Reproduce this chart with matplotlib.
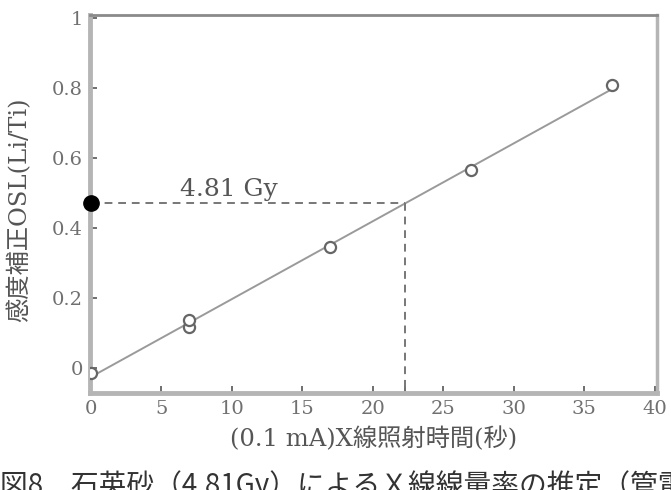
import numpy as np
import matplotlib
matplotlib.use("Agg")
import matplotlib.pyplot as plt

irr_time = [0, 7, 7, 17, 27, 37]
osl_ratio = [-0.014, 0.117, 0.137, 0.346, 0.566, 0.81]
natural_osl = 0.471
dose_label = "4.81 Gy"

x_ticks = [0, 5, 10, 15, 20, 25, 30, 35, 40]
y_ticks = [0, 0.2, 0.4, 0.6, 0.8, 1]
y_ticklabels = ["0", "0.2", "0.4", "0.6", "0.8", "1"]

xlabel = "(0.1 mA)X線照射時間(秒)"
ylabel = "感度補正OSL(Li/Ti)"
caption = "図8　石英砂（4.81Gy）によるＸ線線量率の推定（管電圧"

serif_jp = ["DejaVu Serif", "Noto Sans CJK JP"]
sans_jp = ["Noto Sans CJK JP", "DejaVu Sans"]

# linear fit, and the time that gives the natural signal
slope, icpt = np.polyfit(irr_time, osl_ratio, 1)
x_eq = (natural_osl - icpt) / slope

fig = plt.figure(figsize=(6.71, 4.90), dpi=100)
ax = fig.add_axes([0.134, 0.198, 0.845, 0.771])

xs = np.array([0, 37.2])
ax.plot(xs, icpt + slope * xs, color="#9a9a9a", lw=1.4, zorder=2)
ax.plot(irr_time, osl_ratio, "o", ms=8, mfc="white", mec="#666666", mew=1.6, zorder=3)
ax.plot([0], [natural_osl], "o", ms=11, color="black", clip_on=False, zorder=5)

# dashed guide lines
ax.plot([0, x_eq], [natural_osl, natural_osl], ls=(0, (4, 3)), color="#777777", lw=1.4, zorder=2)
ax.plot([x_eq, x_eq], [natural_osl, -0.071], ls=(0, (4, 3)), color="#777777", lw=1.4, zorder=2)
ax.text(9.8, 0.512, dose_label, ha="center", va="center", fontsize=18,
        family="DejaVu Serif", color="#555555")

ax.set_xlim(-0.05, 40.15)
ax.set_ylim(-0.071, 1.009)
ax.set_xticks(x_ticks + [x_eq])
ax.set_xticklabels([str(t) for t in x_ticks] + [""])
ax.set_yticks(y_ticks)
ax.set_yticklabels(y_ticklabels)
ax.tick_params(direction="in", length=5, width=1.2, color="#555555",
               labelcolor="#707070", labelsize=14)
ax.tick_params(axis="x", pad=5)
ax.tick_params(axis="y", pad=5)
for lab in ax.get_xticklabels() + ax.get_yticklabels():
    lab.set_family("DejaVu Serif")

for side in ["left", "bottom"]:
    ax.spines[side].set_color("#b5b5b5")
    ax.spines[side].set_linewidth(3.5)
ax.spines["top"].set_color("#8a8a8a")
ax.spines["top"].set_linewidth(2)
ax.spines["right"].set_color("#b5b5b5")
ax.spines["right"].set_linewidth(2.5)

ax.set_xlabel(xlabel, family=serif_jp, fontsize=17.5, color="#555555", labelpad=6)
ax.text(-0.125, 0.485, ylabel, rotation=90, transform=ax.transAxes, ha="center",
        va="center", family=serif_jp, fontsize=17.5, color="#555555")

fig.text(0.0, -0.008, caption, ha="left", va="baseline", fontsize=20,
         family=sans_jp, color="#333333")

fig.savefig("out.png", dpi=100)
